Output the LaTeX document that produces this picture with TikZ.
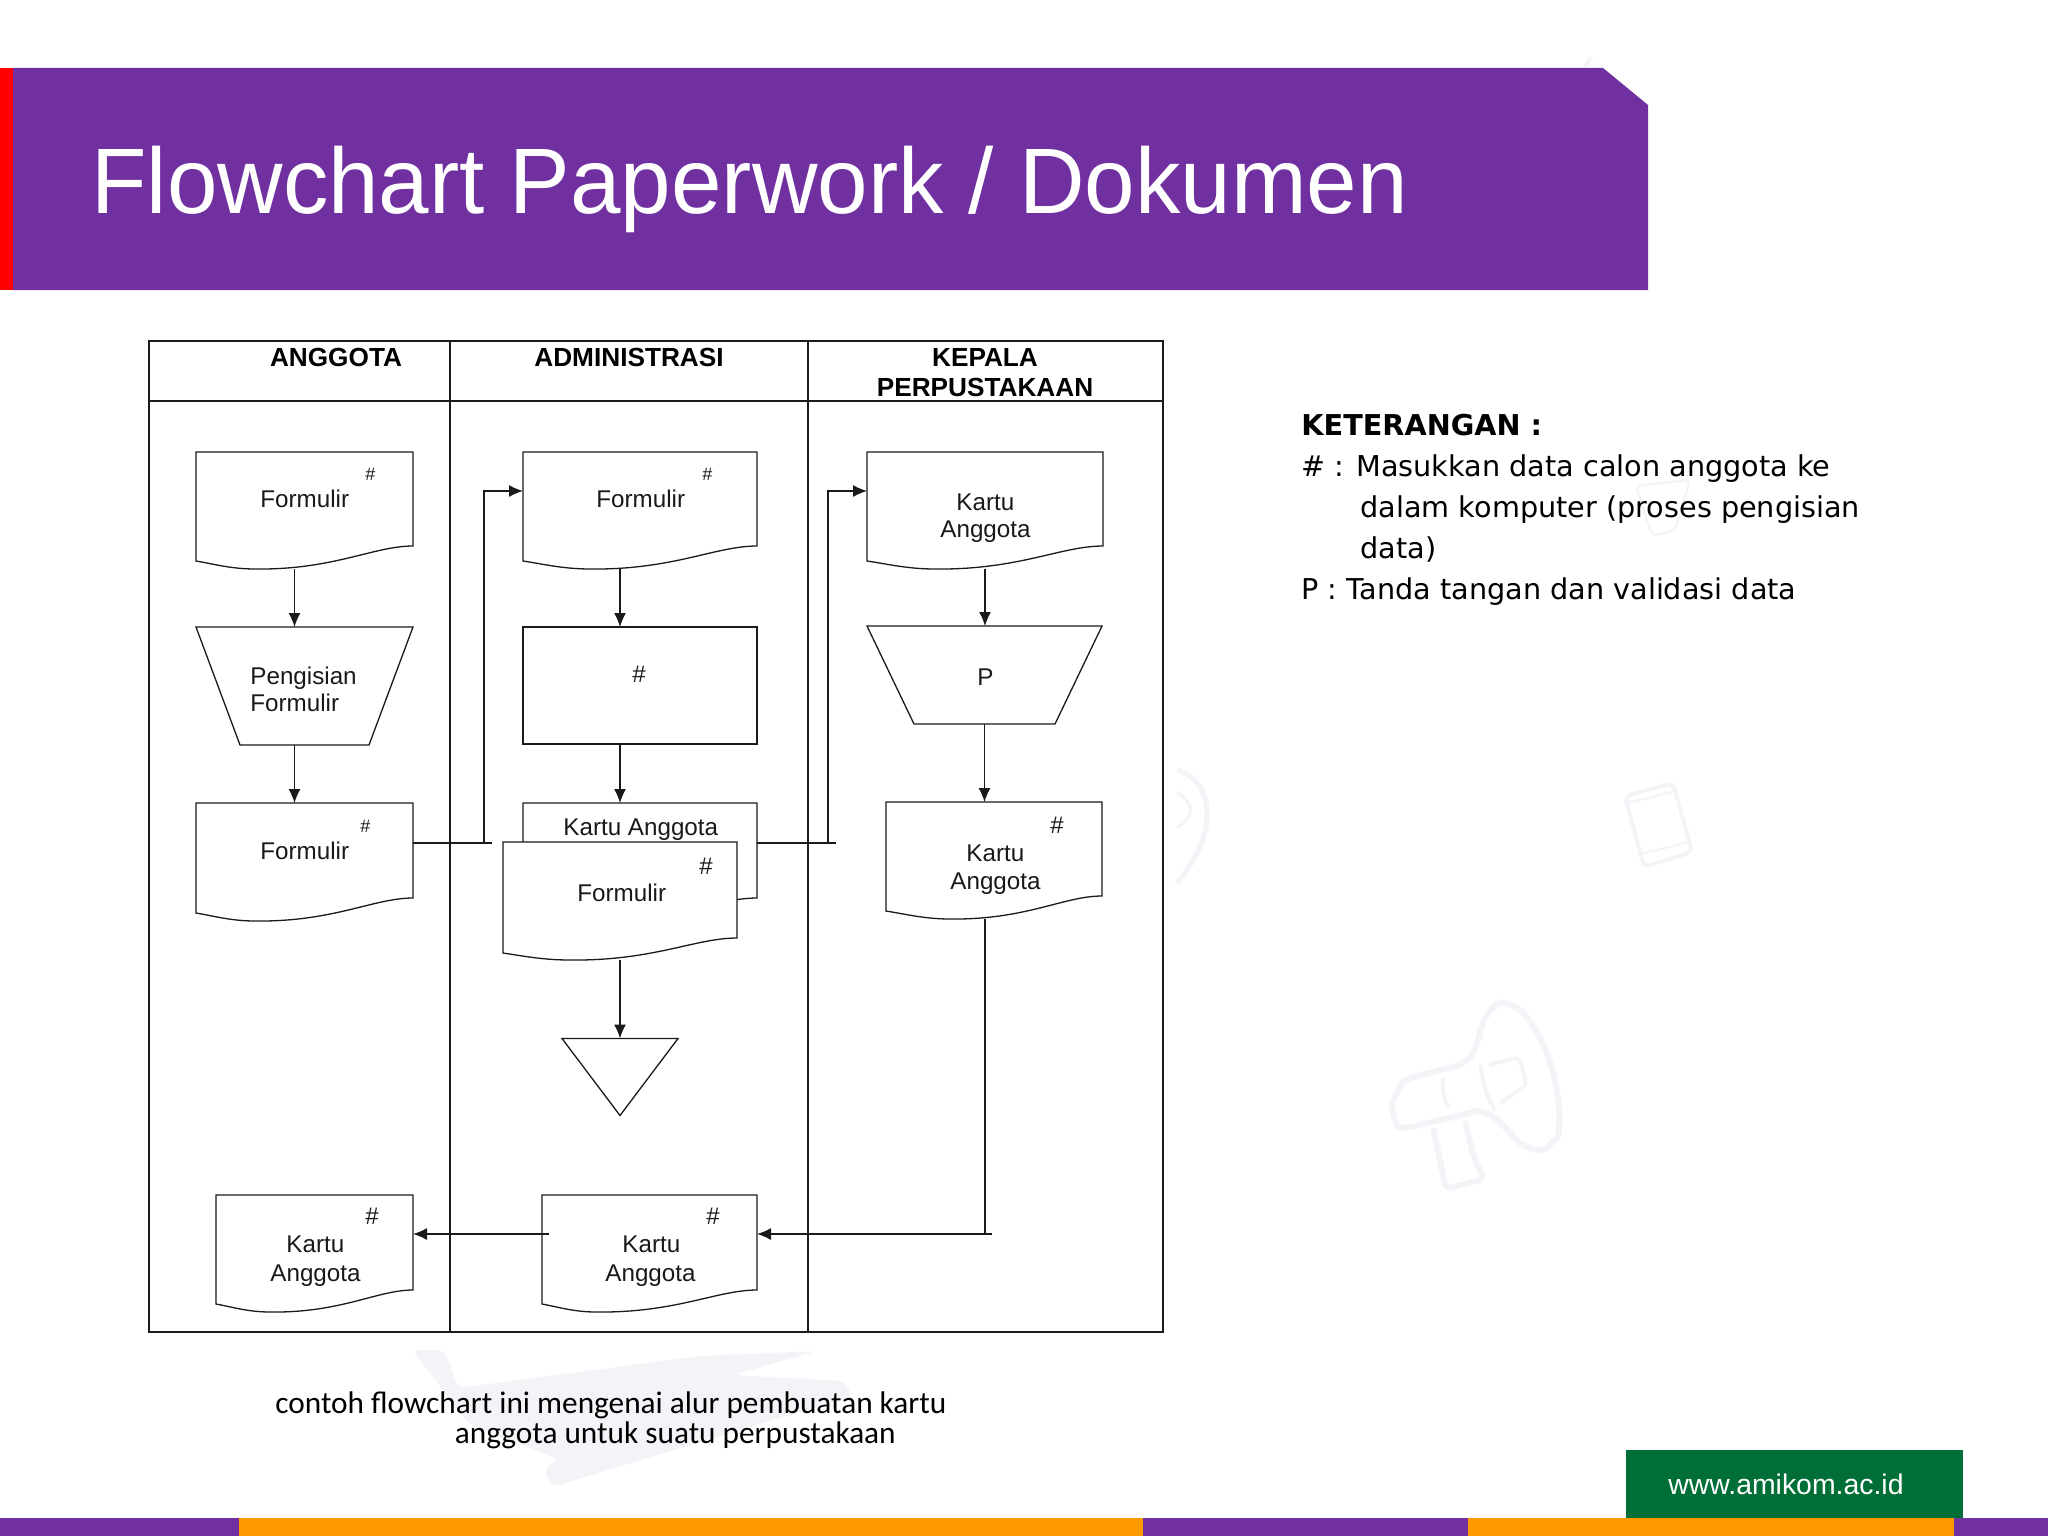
\documentclass[tikz,border=0pt]{standalone}
\usepackage{fontspec}
\setmainfont{Liberation Sans}
\newfontfamily\verd{DejaVu Sans}
\newfontfamily\cali{Carlito}
\usetikzlibrary{arrows.meta,calc}
\definecolor{ungu}{HTML}{7030A0}
\definecolor{oranye}{HTML}{FF9900}
\definecolor{hijau}{HTML}{006F37}
\definecolor{samar}{HTML}{F5F3F7}
\definecolor{garis}{HTML}{1A1A1A}
\tikzset{
  px/.style={x=0.5pt,y=-0.5pt},
  box/.style={draw=none,inner sep=0pt,outer sep=0pt,rectangle},
  fl/.style={garis,line width=0.65pt,line join=miter},
  arr/.style={garis,line width=0.65pt,-{Latex[length=7pt,width=6pt]}},
  con/.style={garis,line width=0.65pt},
  lab/.style={inner sep=0pt,font=\fontsize{12.1}{13.5}\selectfont,text=black!90,align=left,anchor=base west},
  hd/.style={inner sep=0pt,font=\bfseries\fontsize{13.1}{13}\selectfont,text=black,anchor=base},
  ket/.style={inner sep=0pt,font=\verd\fontsize{14.35}{16}\selectfont,text=black,anchor=base west},
  captxt/.style={inner sep=0pt,font=\cali\fontsize{15.65}{16}\selectfont,text=black,anchor=base west},
  wm/.style={draw=samar,line width=3pt,line join=round,rounded corners=3pt}
}
% name, x1, y1 top, x2, right-bottom y, left-bottom y, trough y, trough x
\newcommand{\docu}[8]{%
  \node[box,minimum width={(#4-#2)*0.5pt},minimum height={(#7-#3)*0.5pt}] (#1) at ({(#2+#4)/2},{(#3+#7)/2}) {};
  \draw[fl,fill=white] (#1.north west) -- (#1.north east) -- (#4,#5)
    .. controls ({#4-(#4-#8)*0.25},#5) and ({#4-(#4-#8)*0.5},{#7+1}) .. (#8,#7)
    .. controls ({#8-(#8-#2)*0.4},#7) and ({#8-(#8-#2)*0.7},{#6+3}) .. (#2,#6) -- cycle;
}
\newcommand{\trap}[7]{% name x1 x2 ytop xb1 xb2 ybot
  \node[box,minimum width={(#3-#2)*0.5pt},minimum height={(#7-#4)*0.5pt}] (#1) at ({(#2+#3)/2},{(#4+#7)/2}) {};
  \draw[fl] (#1.north west) -- (#1.north east) -- (#6,#7) -- (#5,#7) -- cycle;
}
\begin{document}
\begin{tikzpicture}[px]
\useasboundingbox (0,0) rectangle (2048,1536);
\fill[white] (0,0) rectangle (2048,1536);
% faint background
\fill[samar,rounded corners=4pt] (412,1350) -- (445,1350) -- (458,1388) -- (700,1356) -- (817,1351) -- (733,1375) -- (845,1381) -- (852,1396) -- (552,1487) -- (543,1468) -- (560,1460) -- (470,1425) -- cycle;
% megaphone
\draw[wm] (1392,1103) -- (1403,1080) -- (1460,1065) .. controls (1475,1055) and (1478,1040) .. (1481,1029)
  .. controls (1488,1008) and (1500,1002) .. (1508,1004)
  .. controls (1530,1012) and (1548,1050) .. (1556,1085)
  .. controls (1562,1120) and (1558,1138) .. (1552,1141)
  .. controls (1545,1152) and (1535,1150) .. (1528,1148)
  .. controls (1515,1140) and (1508,1130) .. (1500,1122)
  .. controls (1490,1114) and (1480,1110) .. (1470,1113)
  -- (1406,1128) .. controls (1398,1128) and (1392,1118) .. (1392,1103);
\draw[wm] (1433,1128) -- (1446,1189) -- (1484,1179) -- (1474,1158) -- (1465,1121);
\draw[wm,line width=2pt] (1481,1065) .. controls (1482,1085) and (1488,1098) .. (1495,1111);
\draw[wm,line width=2pt] (1443,1078) .. controls (1442,1090) and (1444,1100) .. (1449,1108);
\draw[wm,line width=2pt] (1489,1065) -- (1519,1057) -- (1527,1085) -- (1500,1103);
% phone
\draw[wm,line width=2pt] (1625,796) -- (1673,783) -- (1692,852) -- (1644,867) -- cycle;
\draw[wm,line width=1pt] (1627,803) -- (1676,791);
\draw[wm,line width=1pt] (1641,854) -- (1690,842);
% ear
\draw[wm,line width=2.5pt] (1177,770) .. controls (1212,780) and (1222,830) .. (1177,883);
\draw[wm,line width=1.5pt] (1177,792) .. controls (1195,805) and (1195,815) .. (1177,828);
% cup behind the notes, tick above the band
\draw[wm,line width=1.2pt] (1636,486) -- (1690,480) -- (1675,530) -- (1652,536) -- cycle;
\draw[wm,line width=2pt] (1585,67) -- (1591,57);
% header
\fill[ungu] (13,68) -- (1603,68) -- (1648,105) -- (1648,290) -- (13,290) -- cycle;
\fill[red] (0,68) rectangle (13,290);
\node[inner sep=0pt,anchor=base west,text=white,font=\fontsize{46.5}{50}\selectfont,xscale=0.976,transform shape] (title) at (91,213) {Flowchart Paperwork / Dokumen};
% bottom
\fill[ungu] (0,1518) rectangle (2048,1536);
\fill[oranye] (239,1518) rectangle (1143,1536);
\fill[oranye] (1468,1518) rectangle (1954,1536);
\fill[hijau] (1626,1450) rectangle (1963,1518);
\node[inner sep=0pt,anchor=base west,text=white,font=\fontsize{14.2}{15}\selectfont] (web) at (1668,1494) {www.amikom.ac.id};
% swimlane table
\draw[garis,line width=0.7pt] (149,341) rectangle (1163,1332);
\draw[garis,line width=0.7pt] (149,401) -- (1163,401);
\draw[garis,line width=0.6pt] (450,341) -- (450,1332);
\draw[garis,line width=0.6pt] (808,341) -- (808,1332);
\node[hd] (h1) at (336,366) {ANGGOTA};
\node[hd] (h2) at (629,366) {ADMINISTRASI};
\node[hd] (h3) at (985,366) {KEPALA};
\node[hd] (h3b) at (985,396) {PERPUSTAKAAN};
% shapes
\docu{A1}{196}{452}{413}{546}{561}{569}{255}
\trap{A2}{196}{413}{627}{240}{369}{745}
\docu{A3}{196}{803}{413}{898}{913}{921}{255}
\docu{A4}{216}{1195}{413}{1290}{1304}{1312}{270}
\docu{B1}{523}{452}{757}{546}{561}{569}{590}
\node[box,draw=garis,line width=0.65pt,minimum width=117pt,minimum height=58.5pt] (B2) at (640,685.5) {};
\docu{B3}{523}{803}{757}{898}{913}{921}{590}
\docu{B4}{503}{842}{737}{938}{953}{960}{570}
\node[box,minimum width=58pt,minimum height=38.5pt] (B5) at (620,1077) {};
\draw[fl] (B5.north west) -- (B5.north east) -- (B5.south) -- cycle;
\docu{B6}{542}{1195}{757}{1290}{1304}{1312}{596}
\docu{K1}{867}{452}{1103}{546}{561}{569}{935}
\trap{K2}{867}{1102}{626}{914}{1055}{724}
\docu{K3}{886}{802}{1102}{896}{911}{919}{950}
% labels
\node[lab] (l1) at (260,507) {Formulir};
\node[lab,font=\fontsize{9}{10}\selectfont] (s1) at (365,480) {\#};
\node[lab] (l2a) at (250,684) {Pengisian};
\node[lab] (l2b) at (250,711) {Formulir};
\node[lab] (l3) at (260,859) {Formulir};
\node[lab,font=\fontsize{9}{10}\selectfont] (s3) at (360,832) {\#};
\node[lab] (l4a) at (286,1252) {Kartu};
\node[lab] (l4b) at (270,1281) {Anggota};
\node[lab,font=\fontsize{12}{13}\selectfont] (s4) at (365,1224) {\#};
\node[lab] (m1) at (596,507) {Formulir};
\node[lab,font=\fontsize{9}{10}\selectfont] (ms1) at (702,480) {\#};
\node[lab,font=\fontsize{12}{13}\selectfont] (ms2) at (632,682) {\#};
\node[lab] (m3) at (563,835) {Kartu Anggota};
\node[lab] (m4) at (577,901) {Formulir};
\node[lab,font=\fontsize{12}{13}\selectfont] (ms4) at (699,874) {\#};
\node[lab] (m6a) at (622,1252) {Kartu};
\node[lab] (m6b) at (605,1281) {Anggota};
\node[lab,font=\fontsize{12}{13}\selectfont] (ms6) at (706,1224) {\#};
\node[lab] (k1a) at (956,510) {Kartu};
\node[lab] (k1b) at (940,537) {Anggota};
\node[lab] (k2) at (977,685) {P};
\node[lab,font=\fontsize{12}{13}\selectfont] (ks3) at (1050,833) {\#};
\node[lab] (k3a) at (966,861) {Kartu};
\node[lab] (k3b) at (950,889) {Anggota};
% connectors
\coordinate (a3o) at (492,843);
\coordinate (a3v) at (484,843);
\coordinate (b3o) at (836,843);
\coordinate (b3v) at (828,843);
\coordinate (kmid) at (985,1234);
\coordinate (kend) at (992,1234);
\coordinate (b6l) at (549,1234);
\draw[arr] ([xshift=-5pt]A1.south) -- ([xshift=-5pt]A2.north);
\draw[arr] ([xshift=-5pt]A2.south) -- ([xshift=-5pt]A3.north);
\draw[arr] ([xshift=-10pt]B1.south) -- ([xshift=-10pt]B2.north);
\draw[arr] ([xshift=-10pt]B2.south) -- ([xshift=-10pt]B3.north);
\draw[arr] (B4.south) -- (B5.north);
\draw[arr] (K1.south) -- (K1.south |- K2.north);
\draw[arr] (K2.south) -- (K2.south |- K3.north);
\draw[con] (A3.east |- a3o) -- (a3o);
\draw[arr] (a3v) -- (484,491) -- (B1.west |- 0,491);
\draw[con] (B3.east |- b3o) -- (b3o);
\draw[arr] (b3v) -- (828,491) -- (K1.west |- 0,491);
\draw[con] (K3.south -| kmid) -- (kmid);
\draw[arr] (kend) -- (B6.east |- kend);
\draw[arr] (b6l) -- (A4.east |- b6l);
% notes
\node[ket,font=\verd\bfseries\fontsize{14.35}{16}\selectfont] (k0) at (1301,435) {KETERANGAN :};
\node[ket] (k10) at (1301,476) {\# : Masukkan data calon anggota ke};
\node[ket] (k11) at (1360,517) {dalam komputer (proses pengisian};
\node[ket] (k12) at (1360,558) {data)};
\node[ket] (k13) at (1301,599) {P : Tanda tangan dan validasi data};
\node[captxt] (c1) at (275,1413) {contoh flowchart ini mengenai alur pembuatan kartu};
\node[captxt] (c2) at (454.5,1443) {anggota untuk suatu perpustakaan};
\end{tikzpicture}
\end{document}
